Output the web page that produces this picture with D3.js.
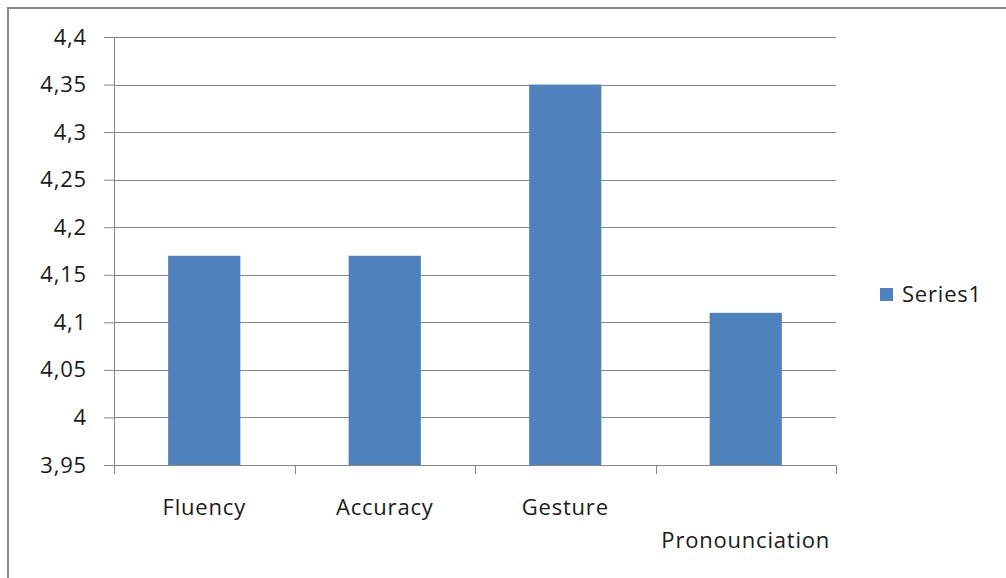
<!DOCTYPE html>
<html>
<head>
  <script src="https://cdn.jsdelivr.net/npm/d3@7"></script>
  <style>
    body { margin: 0; background: #fff; }
    text { font-family: "Open Sans", "Noto Sans", sans-serif; fill: #1a1a1a; }
  </style>
</head>
<body>
  <svg width="1006" height="578" id="mainsvg"></svg>
  <script>
    const categories = ['Fluency', 'Accuracy', 'Gesture', 'Pronounciation'];
    const series1 = [4.17, 4.17, 4.35, 4.11];
    const yTicks = [3.95, 4, 4.05, 4.1, 4.15, 4.2, 4.25, 4.3, 4.35, 4.4];
    const seriesName = 'Series1';

    const svg = d3.select('#mainsvg');
    const margin = { top: 37, left: 114, right: 170, bottom: 113 };
    const innerWidth = 1006 - margin.left - margin.right;
    const innerHeight = 578 - margin.top - margin.bottom;
    const gray = '#868686';
    const barColor = '#4f81bd';
    const fontSize = 22;
    const spacing = '0.8px';

    // outer chart border (cropped at right and bottom)
    svg.append('rect')
      .attr('x', 8).attr('y', 8)
      .attr('width', 1010).attr('height', 600)
      .attr('fill', 'none')
      .attr('stroke', gray)
      .attr('stroke-width', 2);

    const g = svg.append('g')
      .attr('transform', `translate(${margin.left}, ${margin.top})`);

    const xScale = d3.scaleBand()
      .domain(categories)
      .range([0, innerWidth])
      .paddingInner(0.6)
      .paddingOuter(0.3);

    const yScale = d3.scaleLinear()
      .domain([3.95, 4.4])
      .range([innerHeight, 0]);

    // y axis with gridlines
    const yAxis = d3.axisLeft(yScale)
      .tickValues(yTicks)
      .tickFormat(d => d3.format('')(d).replace('.', ','))
      .tickSize(10)
      .tickPadding(17);
    const yAxisGroup = g.append('g').call(yAxis);
    yAxisGroup.selectAll('.tick line').attr('stroke', gray);
    yAxisGroup.select('.domain').attr('stroke', gray).attr('d', `M0.5,0V${innerHeight}`);
    yAxisGroup.selectAll('.tick text')
      .attr('font-size', fontSize)
      .style('font-family', '"Open Sans", sans-serif')
      .style('letter-spacing', spacing)
      .attr('fill', '#1a1a1a');

    g.append('g').selectAll('line')
      .data(yTicks)
      .enter()
      .append('line')
      .attr('x1', 0).attr('x2', innerWidth)
      .attr('y1', d => Math.round(yScale(d)) + 0.5)
      .attr('y2', d => Math.round(yScale(d)) + 0.5)
      .attr('stroke', gray);

    // bars
    g.selectAll('rect.bar')
      .data(series1)
      .enter()
      .append('rect')
      .attr('class', 'bar')
      .attr('x', (d, i) => xScale(categories[i]))
      .attr('y', d => yScale(d))
      .attr('width', xScale.bandwidth())
      .attr('height', d => innerHeight - yScale(d))
      .attr('fill', barColor);

    // x axis: ticks at category boundaries
    const bounds = d3.range(categories.length + 1).map(i => i * innerWidth / categories.length);
    g.append('line')
      .attr('x1', 0).attr('x2', innerWidth)
      .attr('y1', innerHeight + 0.5).attr('y2', innerHeight + 0.5)
      .attr('stroke', gray);
    g.selectAll('line.xtick')
      .data(bounds)
      .enter()
      .append('line')
      .attr('class', 'xtick')
      .attr('x1', d => Math.round(d) + 0.5).attr('x2', d => Math.round(d) + 0.5)
      .attr('y1', innerHeight).attr('y2', innerHeight + 9)
      .attr('stroke', gray);

    // category labels, last one staggered to second row
    g.selectAll('text.xlabel')
      .data(categories)
      .enter()
      .append('text')
      .attr('class', 'xlabel')
      .attr('x', d => xScale(d) + xScale.bandwidth() / 2)
      .attr('y', (d, i) => innerHeight + (i === 3 ? 83 : 50))
      .attr('text-anchor', 'middle')
      .attr('font-size', fontSize)
      .style('letter-spacing', spacing)
      .text(d => d);

    // legend
    const legend = svg.append('g').attr('transform', 'translate(880, 288)');
    legend.append('rect')
      .attr('width', 13).attr('height', 13)
      .attr('fill', barColor);
    legend.append('text')
      .attr('x', 22).attr('y', 14)
      .attr('font-size', fontSize)
      .style('letter-spacing', spacing)
      .text(seriesName);
  </script>
</body>
</html>
